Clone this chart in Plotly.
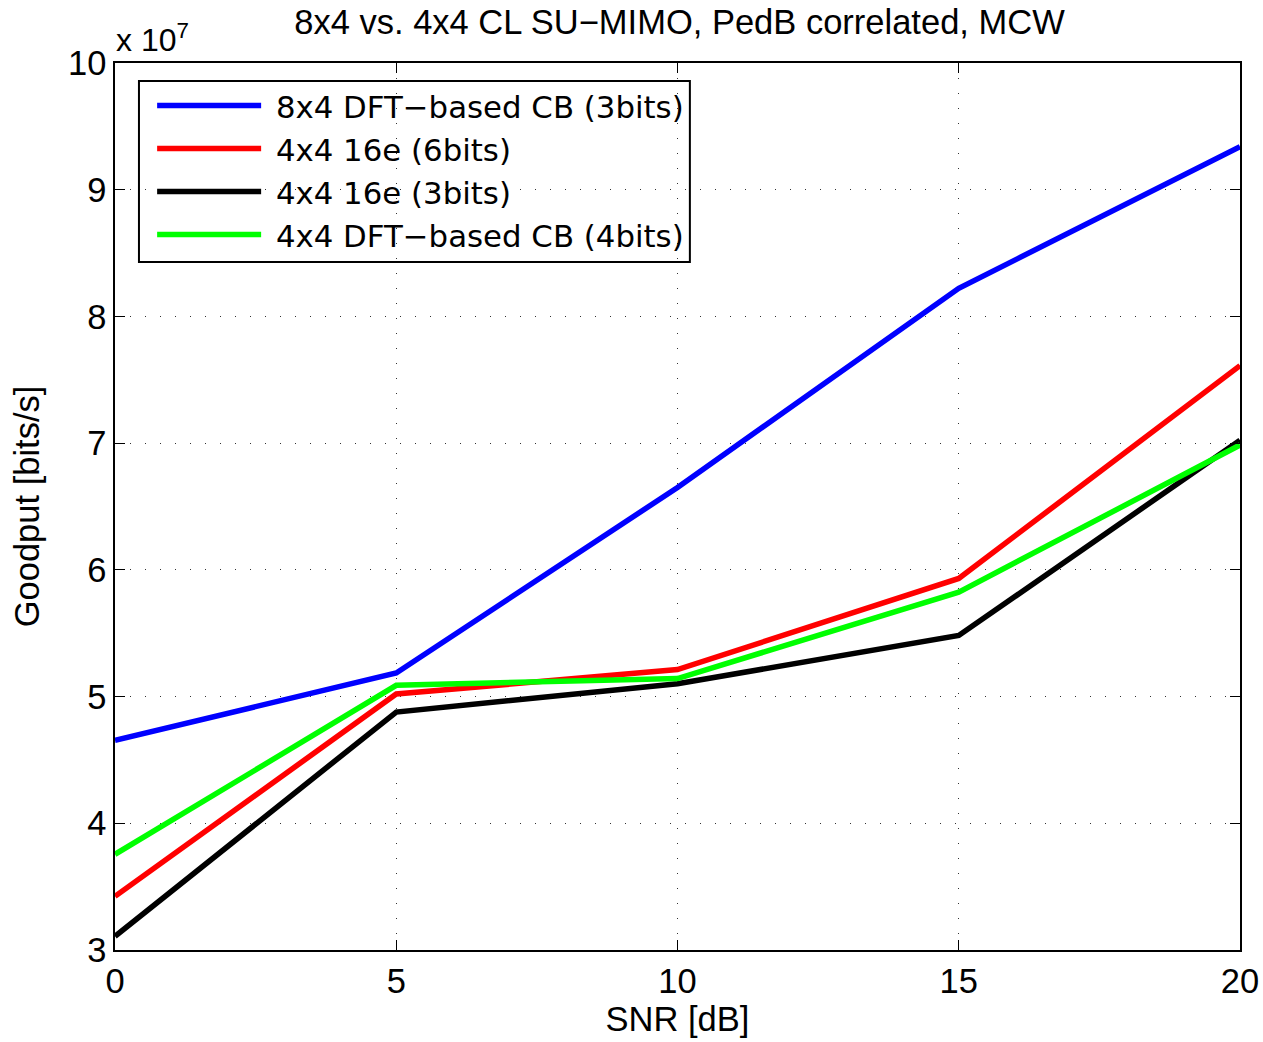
import plotly.graph_objects as go

# SNR points and goodput results (in units of 1e7 bits/s)
snr_db = [0, 5, 10, 15, 20]
goodput_8x4_dft_3b = [4.655, 5.186, 6.650, 8.222, 9.340]
goodput_4x4_16e_6b = [3.424, 5.020, 5.213, 5.932, 7.612]
goodput_4x4_16e_3b = [3.108, 4.878, 5.102, 5.482, 7.022]
goodput_4x4_dft_4b = [3.755, 5.089, 5.142, 5.824, 6.985]

series_names = [
    "8x4 DFT\u2212based CB (3bits)",
    "4x4 16e (6bits)",
    "4x4 16e (3bits)",
    "4x4 DFT\u2212based CB (4bits)",
]
series_values = [goodput_8x4_dft_3b, goodput_4x4_16e_6b, goodput_4x4_16e_3b, goodput_4x4_dft_4b]
series_colors = ["#0000ff", "#ff0000", "#000000", "#00ff00"]

x_ticks = [0, 5, 10, 15, 20]
y_ticks = [3, 4, 5, 6, 7, 8, 9, 10]

FONT = "Liberation Sans, Arial, Helvetica, sans-serif"
LEG_FONT = "DejaVu Sans, Liberation Sans, sans-serif"
FS = 34.5

fig = go.Figure()
for name, vals, col in zip(series_names, series_values, series_colors):
    fig.add_trace(go.Scatter(
        x=snr_db, y=vals, mode="lines", name="\u00a0" + name,
        line=dict(color=col, width=5.5),
    ))

axis_common = dict(
    showline=True, linecolor="black", linewidth=1.5, mirror="ticks",
    ticks="inside", ticklen=10, tickwidth=1, tickcolor="black",
    showgrid=True, gridcolor="#333333", gridwidth=1, griddash="1px,14px",
    zeroline=False, automargin=False,
    tickfont=dict(family=FONT, size=FS, color="black"),
)

fig.update_xaxes(
    range=[0, 20], tickvals=x_ticks, ticktext=[str(v) for v in x_ticks],
    title=dict(text="SNR [dB]", font=dict(family=FONT, size=FS, color="black"), standoff=8),
    **axis_common,
)
fig.update_yaxes(
    range=[3, 10], tickvals=y_ticks, ticktext=[str(v) for v in y_ticks],
    title=dict(text="Goodput [bits/s]", font=dict(family=FONT, size=FS, color="black"), standoff=18),
    **axis_common,
)

fig.update_layout(
    width=1263, height=1042,
    margin=dict(l=115, r=23, t=63, b=92),
    paper_bgcolor="white", plot_bgcolor="white",
    font=dict(family=FONT, size=FS, color="black"),
    title=dict(
        text="8x4 vs. 4x4 CL SU\u2212MIMO, PedB correlated, MCW",
        x=0.538, xanchor="center", y=0.979, yanchor="middle",
        font=dict(family=FONT, size=FS, color="black"),
    ),
    showlegend=True,
    legend=dict(
        x=0.033, y=0.982, xanchor="left", yanchor="top",
        bgcolor="rgba(0,0,0,0)", borderwidth=0,
        font=dict(family=LEG_FONT, size=30.8, color="black"),
        itemwidth=104, tracegroupgap=0,
    ),
    shapes=[
        # legend frame
        dict(
            type="rect", xref="paper", yref="paper",
            x0=0.0213, x1=0.511, y0=0.7756, y1=0.9797,
            line=dict(color="black", width=2), fillcolor="white", layer="below",
        )
    ],
    annotations=[
        dict(
            text="x 10<sup>7</sup>", xref="paper", yref="paper",
            x=-0.001, y=1.003, xanchor="left", yanchor="bottom",
            showarrow=False, font=dict(family=FONT, size=32, color="black"),
        )
    ],
)

fig.write_html("out.html")
